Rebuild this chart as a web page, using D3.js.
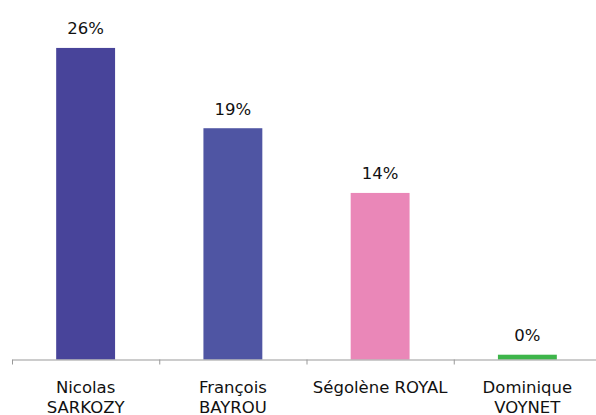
<!DOCTYPE html>
<html>
<head>
<meta charset="utf-8">
<script src="https://cdn.jsdelivr.net/npm/d3@7"></script>
<style>
  body { margin: 0; background: #fff; }
  text { font-family: "DejaVu Sans", Verdana, sans-serif; fill: #111; }
</style>
</head>
<body>
<div id="vis"></div>
<script>
// candidates and poll shares (%)
var candidates = [['Nicolas', 'SARKOZY'], ['François', 'BAYROU'], ['Ségolène ROYAL'], ['Dominique', 'VOYNET']];
var shares = [26, 19.3, 13.9, 0.4];
var colors = ['#48449a', '#4f55a3', '#ea87b8', '#3db54a'];

var width = 596;
var height = 415;
var margin = { top: 0, left: 12, bottom: 55.5, right: -5 };
var innerW = width - margin.left - margin.right;
var innerH = height - margin.top - margin.bottom;

var svg = d3.select('#vis').append('svg')
  .attr('width', width)
  .attr('height', height);

var g = svg.append('g')
  .attr('transform', 'translate(' + margin.left + ',' + margin.top + ')');

var x = d3.scaleBand()
  .domain(d3.range(candidates.length))
  .range([0, innerW])
  .paddingInner(0.6)
  .paddingOuter(0.3);

var y = d3.scaleLinear()
  .domain([0, 30])
  .range([innerH, 0]);

// bars
g.append('g').selectAll('rect')
  .data(shares)
  .enter()
  .append('rect')
  .attr('x', function(d, i) { return x(i); })
  .attr('y', function(d) { return y(d); })
  .attr('width', x.bandwidth())
  .attr('height', function(d) { return innerH - y(d); })
  .attr('fill', function(d, i) { return colors[i]; });

// value labels
g.append('g').selectAll('text')
  .data(shares)
  .enter()
  .append('text')
  .attr('x', function(d, i) { return x(i) + x.bandwidth() / 2; })
  .attr('y', function(d) { return y(d) - 13.5; })
  .attr('text-anchor', 'middle')
  .style('font-size', '16.5px')
  .text(function(d) { return Math.round(d) + '%'; });

// axis with ticks on the band edges
var edges = d3.scaleLinear()
  .domain([0, candidates.length])
  .range([0, innerW]);

var axis = g.append('g')
  .attr('transform', 'translate(0,' + innerH + ')')
  .call(d3.axisBottom(edges).ticks(candidates.length).tickSize(5).tickSizeOuter(0).tickFormat(''));
axis.selectAll('path, line').attr('stroke', '#999');

// category labels
var labels = g.append('g').selectAll('text')
  .data(candidates)
  .enter()
  .append('text')
  .attr('x', function(d, i) { return x(i) + x.bandwidth() / 2; })
  .attr('y', innerH + 33)
  .attr('text-anchor', 'middle')
  .style('font-size', '16.5px');

labels.selectAll('tspan')
  .data(function(d) { return d; })
  .enter()
  .append('tspan')
  .attr('x', function() { return d3.select(this.parentNode).attr('x'); })
  .attr('dy', function(d, i) { return i === 0 ? 0 : 20; })
  .text(function(d) { return d; });
</script>
</body>
</html>
